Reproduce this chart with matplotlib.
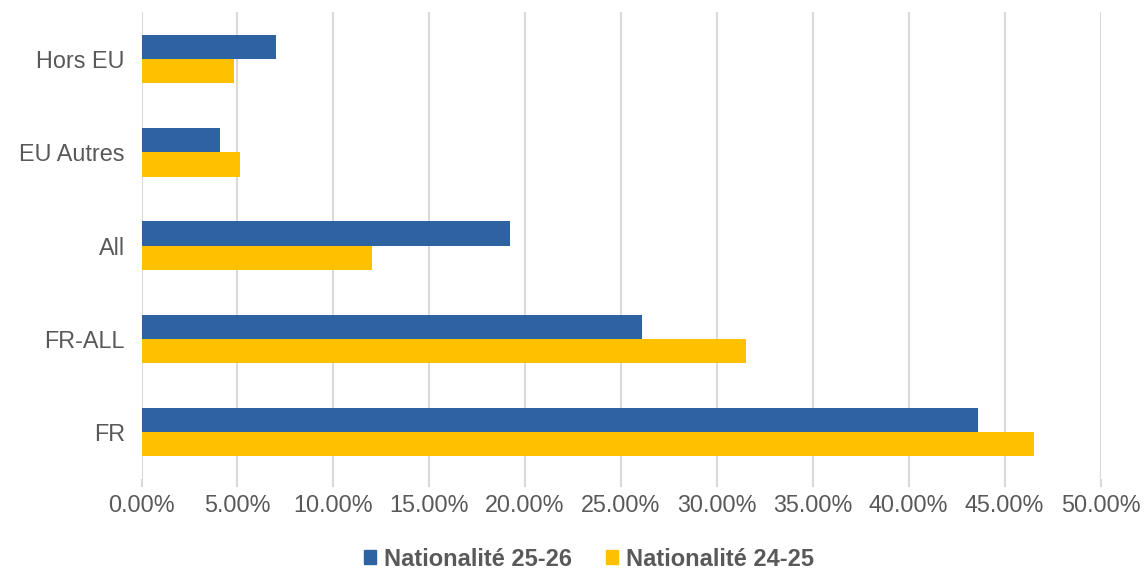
import numpy as np
import matplotlib
matplotlib.use("Agg")
import matplotlib.pyplot as plt
from matplotlib.patches import Patch
from matplotlib.ticker import FuncFormatter

categories = ["FR", "FR-ALL", "All", "EU Autres", "Hors EU"]
nat_25_26 = [43.6, 26.1, 19.2, 4.1, 7.0]
nat_24_25 = [46.55, 31.5, 12.0, 5.15, 4.8]
series_names = ["Nationalité 25-26", "Nationalité 24-25"]

blue = "#2E63A1"
yellow = "#FFC000"
grey_text = "#595959"
grid_col = "#D9D9D9"

plt.rcParams.update({
    "font.family": ["Liberation Sans", "DejaVu Sans"],
    "font.size": 16.8,
})

fig = plt.figure(figsize=(11.44, 5.71), dpi=100)
ax = fig.add_axes([0.1237, 0.1618, 0.962 - 0.1237, 0.9783 - 0.1618])

y = np.arange(len(categories))
h = 0.26
ax.barh(y + h / 2, nat_25_26, height=h, color=blue, zorder=3)
ax.barh(y - h / 2, nat_24_25, height=h, color=yellow, zorder=3)

ax.set_xlim(0, 50)
ax.set_ylim(-0.5, len(categories) - 0.5)
ax.set_xticks(np.arange(0, 51, 5))
ax.xaxis.set_major_formatter(FuncFormatter(lambda v, p: f"{v:.2f}%"))
ax.set_yticks(y)
ax.set_yticklabels(categories)

ax.grid(axis="x", color=grid_col, linewidth=1.5, zorder=0)
ax.tick_params(axis="x", colors=grid_col, length=6, width=1.5, pad=5,
               labelcolor=grey_text)
ax.tick_params(axis="y", length=0, pad=12, labelcolor=grey_text)
for s in ax.spines.values():
    s.set_visible(False)

handles = [Patch(color=blue), Patch(color=yellow)]
leg = fig.legend(handles, series_names, loc="center",
                 bbox_to_anchor=(589 / 1144, 1 - 559 / 571), ncol=2,
                 frameon=False, handlelength=0.5, handleheight=0.5,
                 handletextpad=0.35, columnspacing=1.45,
                 prop={"weight": "bold", "size": 17.0})
for t in leg.get_texts():
    t.set_color(grey_text)

fig.savefig("out.png", dpi=100)
